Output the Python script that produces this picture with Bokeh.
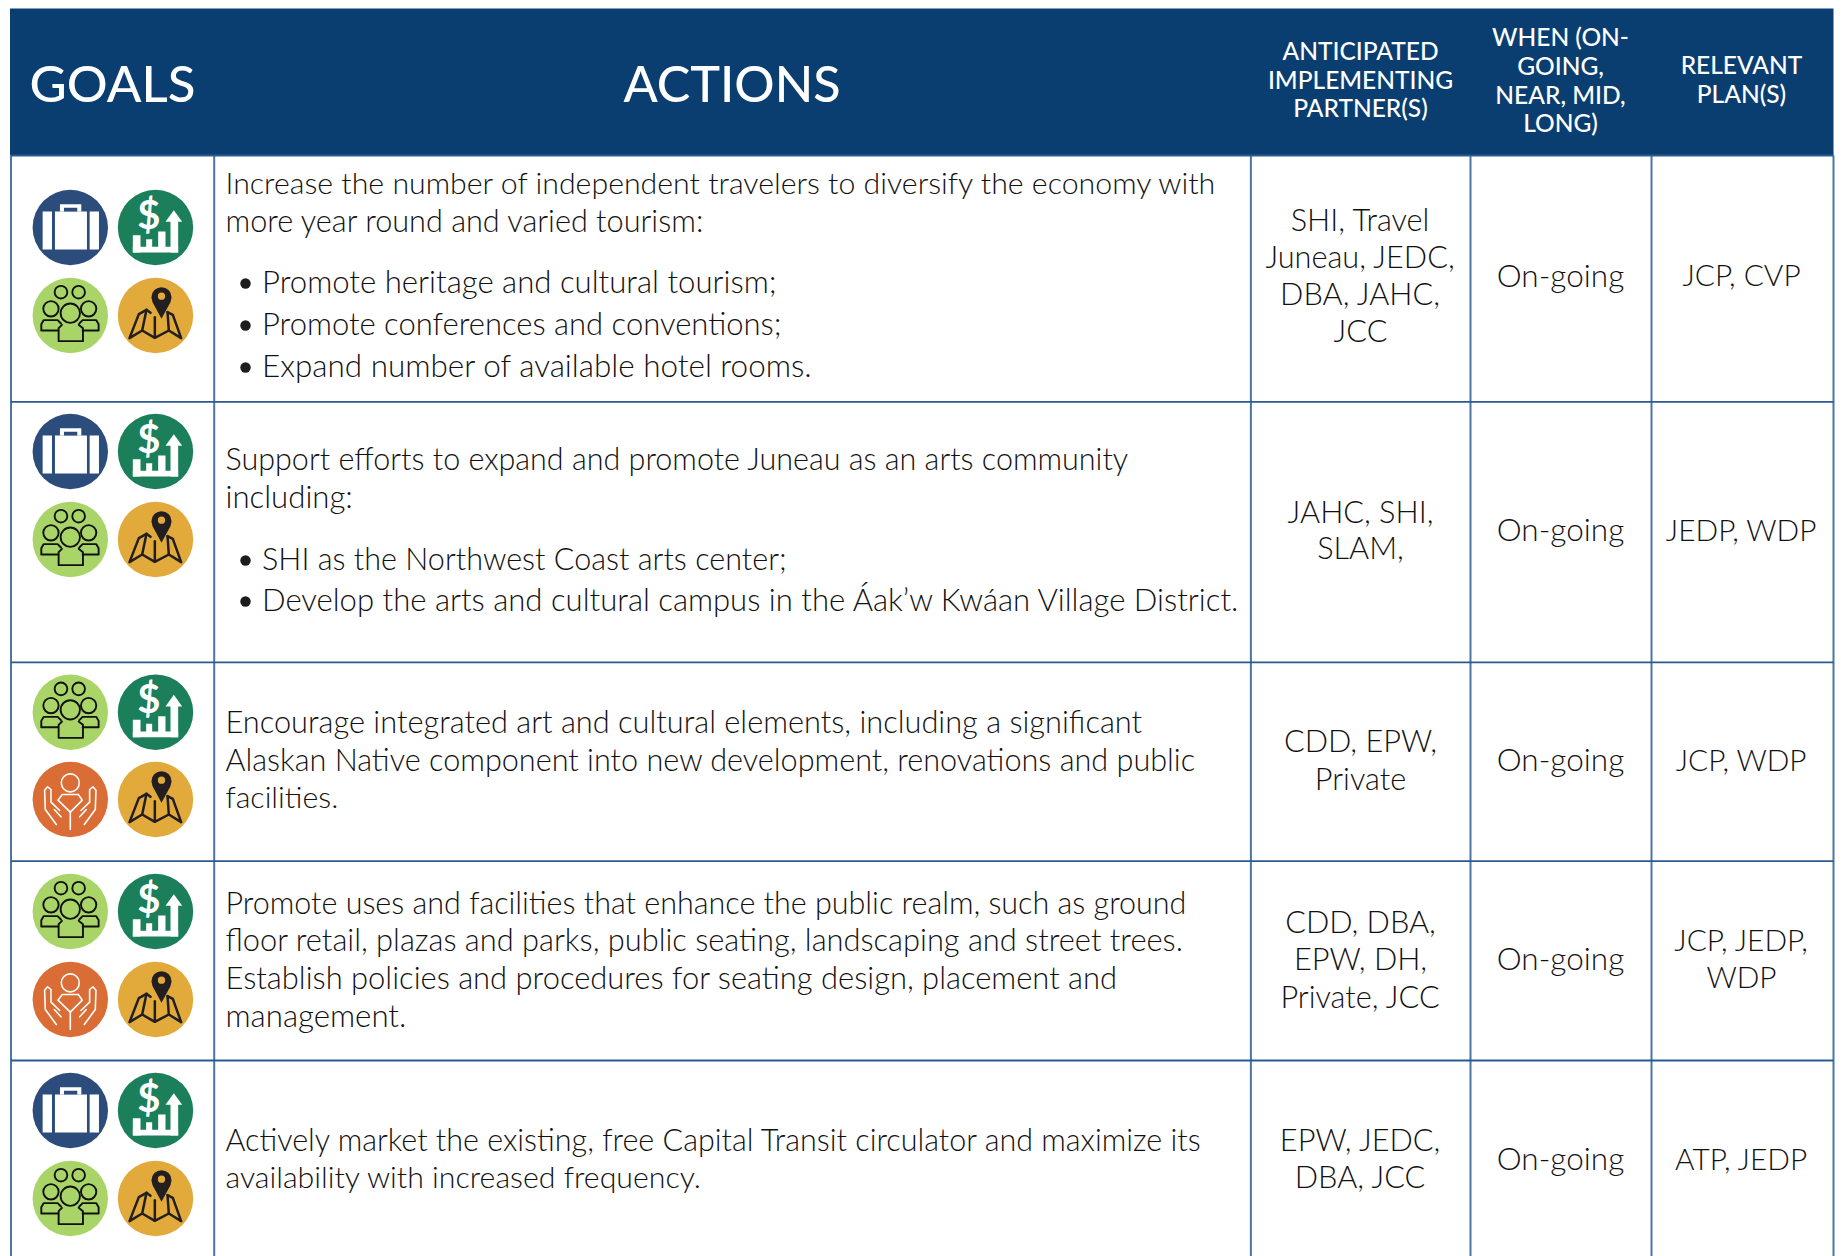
from bokeh.plotting import figure
from bokeh.models import Range1d
from bokeh.core.properties import value
from bokeh.embed import file_html
from bokeh.resources import INLINE

# ---------- table content ----------
headers = ["GOALS", "ACTIONS"]
sub_headers = [
    ["ANTICIPATED", "IMPLEMENTING", "PARTNER(S)"],
    ["WHEN (ON-", "GOING,", "NEAR, MID,", "LONG)"],
    ["RELEVANT", "PLAN(S)"],
]
goal_icons = [
    ["work", "money", "people", "map"],
    ["work", "money", "people", "map"],
    ["people", "money", "care", "map"],
    ["people", "money", "care", "map"],
    ["work", "money", "people", "map"],
]
actions = [
    [("Increase the number of independent travelers to diversify the economy with", 0),
     ("more year round and varied tourism:", 0),
     ("Promote heritage and cultural tourism;", 1),
     ("Promote conferences and conventions;", 1),
     ("Expand number of available hotel rooms.", 1)],
    [("Support efforts to expand and promote Juneau as an arts community", 0),
     ("including:", 0),
     ("SHI as the Northwest Coast arts center;", 1),
     ("Develop the arts and cultural campus in the Áak’w Kwáan Village District.", 1)],
    [("Encourage integrated art and cultural elements, including a significant", 0),
     ("Alaskan Native component into new development, renovations and public", 0),
     ("facilities.", 0)],
    [("Promote uses and facilities that enhance the public realm, such as ground", 0),
     ("floor retail, plazas and parks, public seating, landscaping and street trees.", 0),
     ("Establish policies and procedures for seating design, placement and", 0),
     ("management.", 0)],
    [("Actively market the existing, free Capital Transit circulator and maximize its", 0),
     ("availability with increased frequency.", 0)],
]
partners = [
    ["SHI, Travel", "Juneau, JEDC,", "DBA, JAHC,", "JCC"],
    ["JAHC, SHI,", "SLAM,"],
    ["CDD, EPW,", "Private"],
    ["CDD, DBA,", "EPW, DH,", "Private, JCC"],
    ["EPW, JEDC,", "DBA, JCC"],
]
when = [["On-going"], ["On-going"], ["On-going"], ["On-going"], ["On-going"]]
plans = [
    ["JCP, CVP"],
    ["JEDP, WDP"],
    ["JCP, WDP"],
    ["JCP, JEDP,", "WDP"],
    ["ATP, JEDP"],
]

# ---------- layout (page pixels) ----------
W, H = 1841, 1256
BOTTOM = H
COL_X = [10.5, 213.7, 1250.4, 1470, 1651, 1833]
ROW_Y = [155, 401.3, 661.8, 860.7, 1060]
HEAD_TOP = 8
ICON_COLS = (69.8, 155)
ICON_ROWS = [(227, 315), (451, 539), (711.7, 799), (911, 999), (1110, 1198)]
ICON_R = 37.7
ACTION_X, BULLET_X, BULLET_TEXT_X = 225, 245, 261.5
ACTION_Y = [
    [184, 222, 283, 325, 367],
    [460, 498, 560, 601],
    [723, 761, 798],
    [904, 941, 979, 1017],
    [1141, 1178],
]
# per-line font scale, since the substitute font's proportions differ from the original
ACTION_FIT = [
    [1.0, 1.012, 1.028, 1.023, 1.038],
    [1.007, 1.028, 1.009, 1.026],
    [1.016, 1.011, 1.0],
    [1.007, 1.017, 1.02, 1.03],
    [1.007, 1.0],
]
PARTNER_Y = [[221, 258, 295, 332], [513, 549.5], [742, 780], [923, 960, 998], [1141, 1178]]
WHEN_Y = [[277], [531], [761], [960], [1160]]
PLAN_Y = [[276], [531], [761], [941, 978], [1160]]
COL_SIZE = (30.7, 31.5, 29.8)
SUB_X = (1360, 1560, 1741)
SUB_Y = [[49.5, 79, 107], [35.5, 64.5, 93.5, 121.5], [64, 93]]
BODY_FONT = "Lato Light"
HEAD_FONT = "Lato Medium"
BODY = 30.3
TEXT_DY = -2.5
INK = "#121111"
NAVY = "#0a3e70"
RULE = "#4a76a6"
COLORS = dict(work="#2c4d7c", money="#1c7f5b", people="#a9d467", map="#e2a93b", care="#d96d35")

p = figure(width=W, height=H, x_range=Range1d(0, W), y_range=Range1d(BOTTOM, 0),
           x_axis_location=None, y_axis_location=None, toolbar_location=None,
           output_backend="svg", min_border=0, background_fill_color="white",
           border_fill_color="white", outline_line_color=None)
p.grid.visible = False

# header band
p.quad(left=[COL_X[0] - 1], right=[COL_X[-1]], top=[HEAD_TOP], bottom=[ROW_Y[0]],
       fill_color=NAVY, line_color=None)

# rules
p.multi_line(xs=[[c, c] for c in COL_X], ys=[[ROW_Y[0], BOTTOM]] * len(COL_X),
             line_color=RULE, line_width=2)
p.multi_line(xs=[[COL_X[0], COL_X[-1]]] * (len(ROW_Y)), ys=[[r, r] for r in ROW_Y],
             line_color="#2a5a8f", line_width=1.8)


def tr(cx, cy, pts):
    """Icon shapes are given on a 240 unit tile centred at 120,120; one unit is a third of a pixel."""
    return [cx + (a - 120) / 3 for a, b in pts], [cy + (b - 120) / 3 for a, b in pts]


def rect(x0, y0, x1, y1):
    return [(x0, y0), (x1, y0), (x1, y1), (x0, y1)]


polys = []   # xs, ys, color
strokes = []  # xs, ys, color, width
cxs, cys, crs, ccol, clw, cfill = [], [], [], [], [], []
dollars = []

ICON = "#231f20"
for row, icons in enumerate(goal_icons):
    places = [(ICON_COLS[0], ICON_ROWS[row][0]), (ICON_COLS[1], ICON_ROWS[row][0]),
              (ICON_COLS[0], ICON_ROWS[row][1]), (ICON_COLS[1], ICON_ROWS[row][1])]
    for name, (cx, cy) in zip(icons, places):
        col = COLORS[name]
        cxs.append(cx); cys.append(cy); crs.append(ICON_R); ccol.append(None); clw.append(0); cfill.append(col)
        if name == "work":
            for s in [rect(37, 72, 65, 186), rect(74, 72, 170, 186), rect(178, 72, 206, 186),
                      rect(89, 50, 153, 72)]:
                polys.append((*tr(cx, cy, s), "white"))
            polys.append((*tr(cx, cy, rect(101, 61, 141, 72)), col))
        elif name == "money":
            for s in [rect(52, 143, 75, 195), rect(52, 178, 188, 195), rect(92, 155, 110, 180),
                      rect(128, 132, 150, 180), rect(165, 100, 188, 195),
                      [(175, 68), (200, 103), (150, 103)]]:
                polys.append((*tr(cx, cy, s), "white"))
            dollars.append((cx - 6.7, cy - 14))
        elif name == "people":
            for (a, b, r) in [(92, 50, 19), (145, 50, 19), (62, 100, 23), (175, 100, 23)]:
                x, y = tr(cx, cy, [(a, b)])
                cxs.append(x[0]); cys.append(y[0]); crs.append(r / 3); ccol.append("#111111"); clw.append(1.9); cfill.append(None)
            for s in [[(82, 165), (33, 165), (33, 146), (40, 134), (82, 134), (92, 144)],
                      [(157, 165), (205, 165), (205, 146), (198, 134), (157, 134), (147, 144)],
                      [(95, 148), (85, 158), (85, 197), (158, 197), (158, 158), (145, 148)]]:
                strokes.append((*tr(cx, cy, s), "#111111", 1.9))
            x, y = tr(cx, cy, [(120, 113)])
            cxs.append(x[0]); cys.append(y[0]); crs.append(29 / 3); ccol.append("#111111"); clw.append(1.9); cfill.append(None)
        elif name == "map":
            x, y = tr(cx, cy, [(138, 65)])
            cxs.append(x[0]); cys.append(y[0]); crs.append(30 / 3); ccol.append(None); clw.append(0); cfill.append(ICON)
            polys.append((*tr(cx, cy, [(110, 78), (166, 78), (138, 130)]), ICON))
            cxs.append(x[0]); cys.append(y[0] - 1); crs.append(11 / 3); ccol.append(None); clw.append(0); cfill.append(col)
            for s in [[(105, 112), (93, 103), (70, 116), (42, 188), (80, 165), (118, 187), (160, 165), (197, 188), (172, 118), (156, 110)],
                      [(93, 103), (80, 165)], [(118, 125), (118, 187)], [(156, 110), (160, 165)]]:
                strokes.append((*tr(cx, cy, s), ICON, 2.5))
        elif name == "care":
            x, y = tr(cx, cy, [(120, 70)])
            cxs.append(x[0]); cys.append(y[0]); crs.append(27 / 3); ccol.append("white"); clw.append(1.6); cfill.append(None)
            for s in [[(83, 122), (96, 105), (144, 105), (156, 122), (120, 158), (83, 122)],
                      [(120, 158), (120, 210)],
                      [(78, 195), (45, 150), (43, 92), (52, 82), (62, 90), (62, 128), (88, 153)],
                      [(92, 172), (72, 150)],
                      [(162, 195), (195, 150), (197, 92), (188, 82), (178, 90), (178, 128), (152, 153)],
                      [(148, 172), (168, 150)]]:
                strokes.append((*tr(cx, cy, s), "white", 1.6))

disc = [i for i in range(len(cxs)) if ccol[i] is None and crs[i] == ICON_R]
p.circle([cxs[i] for i in disc], [cys[i] for i in disc], radius=[crs[i] for i in disc],
         fill_color=[cfill[i] for i in disc], line_color=None)
p.patches([a for a, b, c in polys], [b for a, b, c in polys],
          fill_color=[c for a, b, c in polys], line_color=None)
rest_fill = [i for i in range(len(cxs)) if ccol[i] is None and crs[i] != ICON_R]
p.circle([cxs[i] for i in rest_fill], [cys[i] for i in rest_fill], radius=[crs[i] for i in rest_fill],
         fill_color=[cfill[i] for i in rest_fill], line_color=None)
rest_ring = [i for i in range(len(cxs)) if ccol[i] is not None]
p.circle([cxs[i] for i in rest_ring], [cys[i] for i in rest_ring], radius=[crs[i] for i in rest_ring],
         fill_color=None, line_color=[ccol[i] for i in rest_ring], line_width=[clw[i] for i in rest_ring])
for a, b, c, w in strokes:
    p.line(a, b, line_color=c, line_width=w, line_join="round", line_cap="round")
p.text([d[0] for d in dollars], [d[1] for d in dollars], text=["$"] * len(dollars),
       text_font=value("Lato"), text_font_style="bold", text_font_size="40px",
       text_color="white", text_align="center", text_baseline="middle")


def put(xs, ys, ts, font=BODY_FONT, size=BODY, color=INK, align="center", dy=TEXT_DY):
    p.text(xs, [y + dy for y in ys], text=ts, text_font=value(font),
           text_font_size=f"{size:.2f}px", text_color=color, text_align=align,
           text_baseline="middle")


# headers
put([29], [81.5], headers[:1], HEAD_FONT, 51, "white", "left", 0)
put([731.5], [81.5], headers[1:], HEAD_FONT, 50.3, "white", "center", 0)
for x, ys, lines in zip(SUB_X, SUB_Y, sub_headers):
    put([x] * len(lines), ys, lines, HEAD_FONT, 24.5, "white", "center", 0)

# action cells
for lines, ys, fit in zip(actions, ACTION_Y, ACTION_FIT):
    for (t, b), y, f in zip(lines, ys, fit):
        put([BULLET_TEXT_X if b else ACTION_X], [y], [t], size=BODY * f, align="left")
        if b:
            p.circle([BULLET_X], [y], radius=5.2, fill_color="#1c1c1c", line_color=None)

# other columns
for k, (col, yy) in enumerate([(partners, PARTNER_Y), (when, WHEN_Y), (plans, PLAN_Y)]):
    for lines, ys in zip(col, yy):
        put([SUB_X[k]] * len(lines), ys, lines, size=COL_SIZE[k])

open("out.html", "w").write(file_html(p, INLINE))
